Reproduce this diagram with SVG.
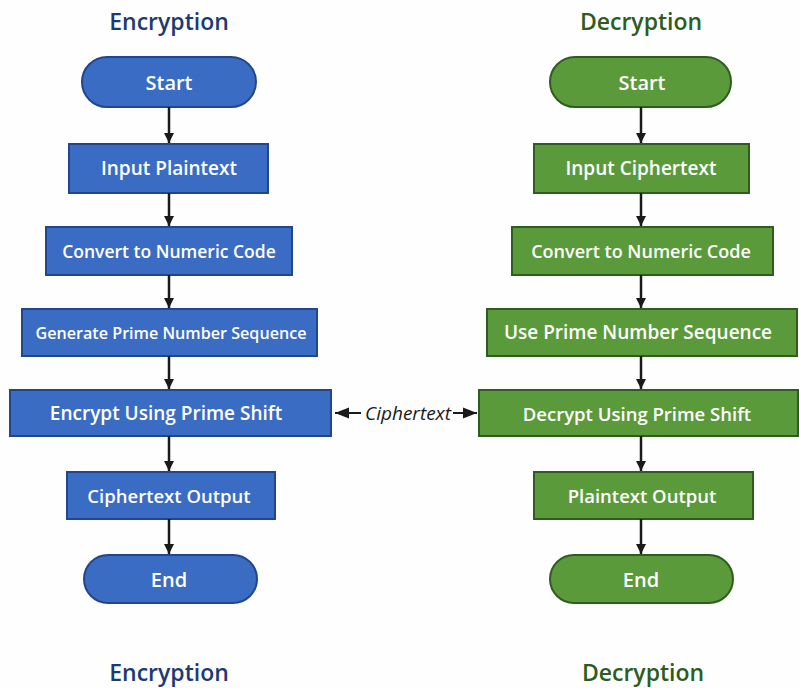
<svg xmlns="http://www.w3.org/2000/svg" width="799" height="688" viewBox="0 0 799 688">
<defs>
<marker id="ah" viewBox="0 0 10 10" refX="10" refY="5" markerWidth="10" markerHeight="10" markerUnits="userSpaceOnUse" orient="auto"><path d="M0,0 L10,5 L0,10 z" fill="#1a1a1a"/></marker>
<marker id="ah2" viewBox="0 0 10 10" refX="10" refY="5" markerWidth="14" markerHeight="14" markerUnits="userSpaceOnUse" orient="auto"><path d="M0,1 L10,5 L0,9 z" fill="#1a1a1a"/></marker>
<style>
.b rect{fill:#3b6cc4;stroke:#22468e;stroke-width:2}
.g rect{fill:#5b9a3b;stroke:#2f5c1f;stroke-width:2}
.t{font-family:"Open Sans","Liberation Sans",sans-serif;font-weight:600;fill:#fff;text-anchor:middle;dominant-baseline:central}
.h{font-family:"Open Sans","Liberation Sans",sans-serif;font-weight:600;font-size:23px;text-anchor:middle;dominant-baseline:central}
.c line{stroke:#1a1a1a;stroke-width:2.5;marker-end:url(#ah)}
</style>
</defs>
<rect width="799" height="688" fill="#fefefe"/>
<text class="h" x="169" y="21" fill="#1d3a74">Encryption</text>
<text class="h" x="641" y="21" fill="#2d5c1d">Decryption</text>
<text class="h" x="169" y="672" fill="#1d3a74">Encryption</text>
<text class="h" x="643" y="672" fill="#2d5c1d">Decryption</text>

<g id="e-start" class="b"><rect x="82" y="57" width="174" height="50" rx="25"/><text class="t" x="169" y="82" font-size="20">Start</text></g>
<g id="e-input" class="b"><rect x="69" y="144" width="199" height="49"/><text class="t" x="169" y="168" font-size="19">Input Plaintext</text></g>
<g id="e-convert" class="b"><rect x="46" y="227" width="246" height="48"/><text class="t" x="169" y="251" font-size="17.5">Convert to Numeric Code</text></g>
<g id="e-generate" class="b"><rect x="22" y="309" width="295" height="47"/><text class="t" x="171" y="332" font-size="17" textLength="271" lengthAdjust="spacingAndGlyphs">Generate Prime Number Sequence</text></g>
<g id="e-encrypt" class="b"><rect x="10" y="390" width="321" height="46"/><text class="t" x="166" y="413" font-size="19">Encrypt Using Prime Shift</text></g>
<g id="e-output" class="b"><rect x="67" y="472" width="208" height="47"/><text class="t" x="169" y="495" font-size="18.5">Ciphertext Output</text></g>
<g id="e-end" class="b"><rect x="84" y="555" width="173" height="48" rx="24"/><text class="t" x="169" y="579" font-size="20">End</text></g>

<g id="d-start" class="g"><rect x="550" y="57" width="181" height="50" rx="25"/><text class="t" x="642" y="82" font-size="20">Start</text></g>
<g id="d-input" class="g"><rect x="534" y="144" width="215" height="49"/><text class="t" x="641" y="168" font-size="19">Input Ciphertext</text></g>
<g id="d-convert" class="g"><rect x="512" y="227" width="261" height="48"/><text class="t" x="641" y="251" font-size="18">Convert to Numeric Code</text></g>
<g id="d-use" class="g"><rect x="487" y="309" width="310" height="47"/><text class="t" x="638" y="332" font-size="19">Use Prime Number Sequence</text></g>
<g id="d-decrypt" class="g"><rect x="479" y="390" width="319" height="46"/><text class="t" x="637" y="413" font-size="18.5">Decrypt Using Prime Shift</text></g>
<g id="d-output" class="g"><rect x="534" y="472" width="219" height="47"/><text class="t" x="642" y="495" font-size="18.5">Plaintext Output</text></g>
<g id="d-end" class="g"><rect x="550" y="555" width="183" height="48" rx="24"/><text class="t" x="641" y="579" font-size="20">End</text></g>

<g id="connectors" class="c">
<line x1="169" y1="107" x2="169" y2="143"/>
<line x1="169" y1="193" x2="169" y2="226"/>
<line x1="169" y1="275" x2="169" y2="308"/>
<line x1="169" y1="356" x2="169" y2="389"/>
<line x1="169" y1="436" x2="169" y2="471"/>
<line x1="169" y1="519" x2="169" y2="554"/>
<line x1="641" y1="107" x2="641" y2="143"/>
<line x1="641" y1="193" x2="641" y2="226"/>
<line x1="641" y1="275" x2="641" y2="308"/>
<line x1="641" y1="356" x2="641" y2="389"/>
<line x1="641" y1="436" x2="641" y2="471"/>
<line x1="641" y1="519" x2="641" y2="554"/>
<line x1="361" y1="413" x2="335" y2="413" style="stroke-width:2;marker-end:url(#ah2)"/>
<line x1="453" y1="413" x2="477" y2="413" style="stroke-width:2;marker-end:url(#ah2)"/>
</g>
<text x="408" y="413" font-family="Open Sans, Liberation Sans, sans-serif" font-style="italic" font-size="19" fill="#1a1a1a" text-anchor="middle" dominant-baseline="central" textLength="86" lengthAdjust="spacingAndGlyphs">Ciphertext</text>
</svg>
